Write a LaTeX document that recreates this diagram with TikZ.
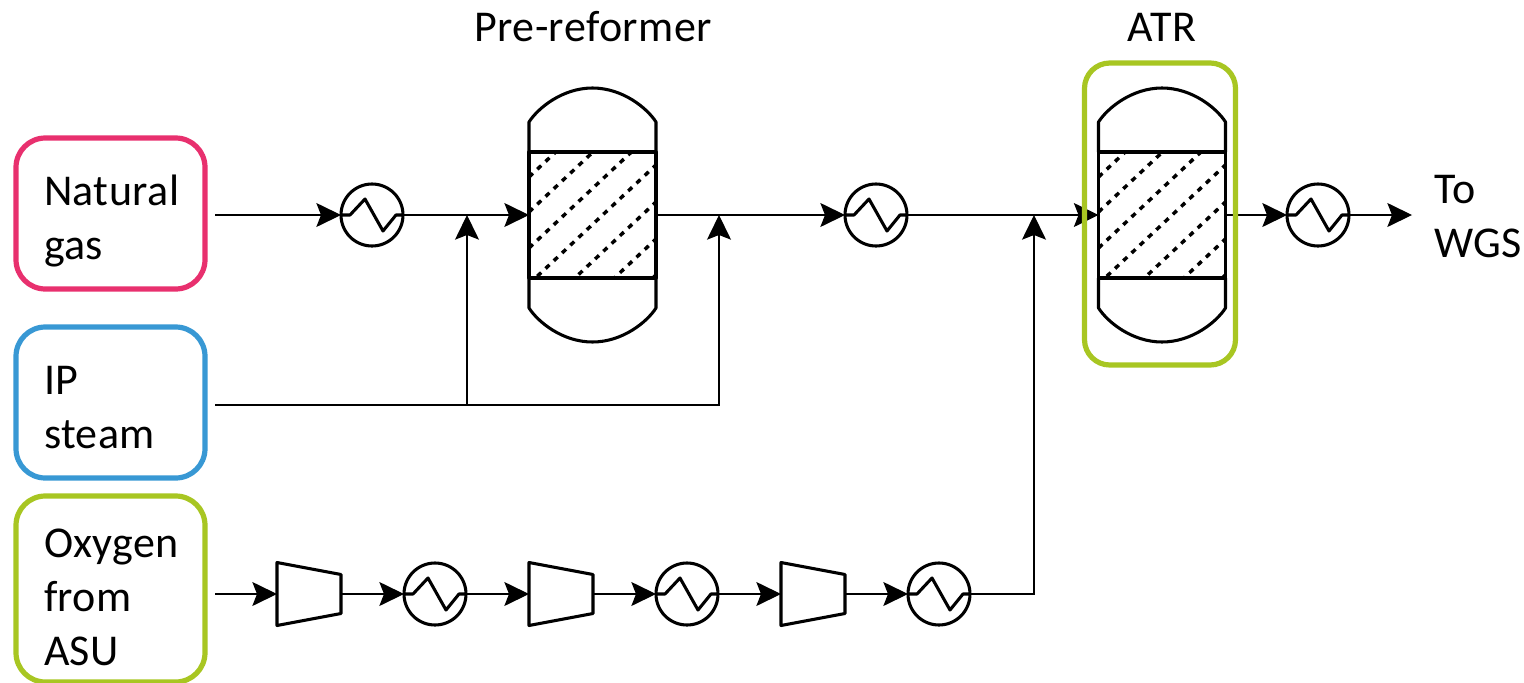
\documentclass[tikz,border=0pt]{standalone}
\usepackage{fontspec}
\setmainfont[LetterSpace=1]{Carlito}
\usetikzlibrary{arrows.meta,calc}
\definecolor{gaspink}{RGB}{232,48,110}
\definecolor{steamblue}{RGB}{56,152,212}
\definecolor{atrgreen}{RGB}{168,198,34}
\def\px{0.75pt}

\begin{document}
\begin{tikzpicture}[
        x=0.75pt, y=-0.75pt,
        feed/.style={rectangle, draw, rounded corners=22pt, line width=3.9pt, align=left,
            font=\fontsize{33}{40.5}\selectfont, text width=133*\px, inner sep=0pt, outer sep=0pt,
            minimum width=189*\px, execute at begin node={\rule{0pt}{#1}}},
        feed/.default=34pt,
        label/.style={font=\fontsize{33}{40.5}\selectfont, align=left, inner sep=0pt},
        vessel/.style={line width=2.3pt, line join=round},
        pipe/.style={line width=0.9pt, -{Stealth[length=18.5pt,width=18pt,inset=3.5pt]}},
        exchanger/.style={circle, draw, vessel, minimum size=62*\px, inner sep=0pt, outer sep=0pt},
        compressor/.style={rectangle, minimum width=64*\px, minimum height=63*\px, inner sep=0pt, outer sep=0pt},
        catalyst/.style={rectangle, draw, vessel, minimum width=127*\px, minimum height=126*\px,
            inner sep=0pt, outer sep=0pt,
            path picture={
                \foreach \d in {25,60,96,132,169,206,242}
                    \draw[line width=2.6pt, dash pattern=on 4pt off 4.5pt]
                        (path picture bounding box.north west) ++(0,\d) -- ++(240,-225);
            }},
    ]
        \useasboundingbox (0,0) rectangle (1524,682);

        % feeds
        \node[feed, draw=gaspink, minimum height=151*\px] (natgas) at (110.5,213.5) {Natural\\gas};
        \node[feed=28pt, draw=steamblue, minimum height=151*\px] (steam) at (110.5,402.5) {IP\\steam};
        \node[feed, draw=atrgreen, minimum height=186*\px] (oxygen) at (110.5,589) {Oxygen\\from\\ASU};

        % reactors
        \node[catalyst] (prereformer) at (592.5,215) {};
        \node[catalyst] (atr) at (1162,215) {};
        \foreach \r in {prereformer,atr} {
            \draw[vessel] (\r.north west) -- ++(0,-30) .. controls +(9,-14) and +(-30,0) .. ++(63.5,-34)
                .. controls +(30,0) and +(-9,-14) .. ++(63.5,34) -- (\r.north east);
            \draw[vessel] (\r.south west) -- ++(0,30) .. controls +(9,14) and +(-30,0) .. ++(63.5,34)
                .. controls +(30,0) and +(-9,14) .. ++(63.5,-34) -- (\r.south east);
        }
        \node[label] (prelabel) at (593,27) {Pre-reformer};
        \node[label] (atrlabel) at (1162,27) {ATR};

        % heat exchangers
        \node[exchanger] (hxa) at (372,215) {};
        \node[exchanger] (hxb) at (876,215) {};
        \node[exchanger] (hxc) at (1318,215) {};
        \node[exchanger] (hxd) at (435,594) {};
        \node[exchanger] (hxe) at (687,594) {};
        \node[exchanger] (hxf) at (939,594) {};
        \foreach \h in {hxa,hxb,hxc,hxd,hxe,hxf}
            \draw[vessel] (\h.west) -- ++(9,0) -- ++(15,-16) -- ++(18,32) -- ++(13,-16) -- (\h.east);

        % compressors
        \node[compressor] (compa) at (309,594) {};
        \node[compressor] (compb) at (561,594) {};
        \node[compressor] (compc) at (813,594) {};
        \foreach \c in {compa,compb,compc}
            \draw[vessel] (\c.north west) -- ++(64,12) -- ++(0,39) -- ++(-64,12) -- cycle;

        \node[label, anchor=west, inner xsep=22*\px] (towgs) at (1412,216.5) {To\\WGS};

        \coordinate (ngout) at (215,215);
        \coordinate (steamout) at (215,405);
        \coordinate (oxout) at (215,594);
        \coordinate (mixa) at (467,215);
        \coordinate (mixb) at (719,215);
        \coordinate (mixc) at (1034,215);

        % main line
        \draw[pipe] (ngout) -- (hxa.west);
        \draw[pipe] (hxa.east) -- (prereformer.west);
        \draw[pipe] (prereformer.east) -- (hxb.west);
        \draw[pipe] (hxb.east) -- (atr.west);
        \draw[pipe] (atr.east) -- (hxc.west);
        \draw[pipe] (hxc.east) -- (hxc.east -| towgs.west);

        % steam
        \draw[pipe] (steamout) -| (mixa);
        \draw[pipe] (steamout) -| (mixb);

        % oxygen train
        \draw[pipe] (oxout) -- (compa.west);
        \draw[pipe] (compa.east) -- (hxd.west);
        \draw[pipe] (hxd.east) -- (compb.west);
        \draw[pipe] (compb.east) -- (hxe.west);
        \draw[pipe] (hxe.east) -- (compc.west);
        \draw[pipe] (compc.east) -- (hxf.west);
        \draw[pipe] (hxf.east) -| (mixc);

        % box round the ATR
        \node[rectangle, draw=atrgreen, rounded corners=19pt, line width=3.9pt, inner sep=0pt,
            minimum width=151*\px, minimum height=302*\px] (atrbox) at (1160,214) {};
    \end{tikzpicture}
\end{document}
